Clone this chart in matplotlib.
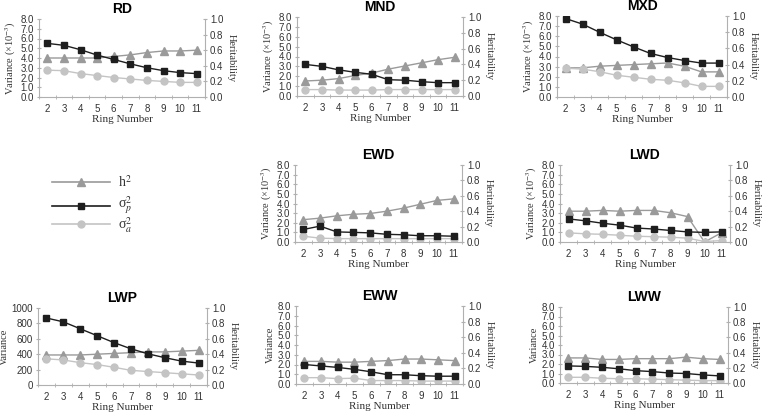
import matplotlib
matplotlib.use("Agg")
import matplotlib.pyplot as plt
import numpy as np

plt.rcParams["mathtext.fontset"] = "stix"

rings = [2, 3, 4, 5, 6, 7, 8, 9, 10, 11]

rd_p = [5.5, 5.3, 4.85, 4.3, 3.85, 3.4, 3.0, 2.7, 2.5, 2.4]
rd_a = [2.75, 2.7, 2.4, 2.2, 2.0, 1.85, 1.7, 1.6, 1.5, 1.5]
rd_h = [0.50, 0.50, 0.50, 0.50, 0.52, 0.54, 0.57, 0.59, 0.59, 0.60]

mnd_p = [3.2, 3.0, 2.65, 2.4, 2.2, 1.65, 1.6, 1.45, 1.35, 1.35]
mnd_a = [0.65, 0.65, 0.6, 0.6, 0.6, 0.65, 0.65, 0.65, 0.65, 0.65]
mnd_h = [0.19, 0.20, 0.22, 0.26, 0.29, 0.34, 0.38, 0.42, 0.46, 0.49]

mxd_p = [7.75, 7.2, 6.4, 5.65, 4.95, 4.3, 3.9, 3.6, 3.35, 3.35]
mxd_a = [2.85, 2.75, 2.5, 2.15, 1.95, 1.75, 1.65, 1.4, 1.05, 1.05]
mxd_h = [0.36, 0.36, 0.38, 0.39, 0.40, 0.41, 0.42, 0.38, 0.31, 0.31]

ewd_p = [1.3, 1.65, 1.05, 1.0, 0.95, 0.8, 0.75, 0.65, 0.65, 0.6]
ewd_a = [0.6, 0.4, 0.35, 0.35, 0.35, 0.35, 0.35, 0.35, 0.35, 0.35]
ewd_h = [0.29, 0.31, 0.34, 0.36, 0.37, 0.40, 0.44, 0.49, 0.54, 0.56]

lwd_p = [2.4, 2.2, 1.95, 1.75, 1.45, 1.35, 1.2, 1.05, 1.0, 1.05]
lwd_a = [0.95, 0.85, 0.8, 0.7, 0.6, 0.55, 0.5, 0.4, 0.05, 0.15]
lwd_h = [0.40, 0.40, 0.41, 0.40, 0.41, 0.41, 0.38, 0.33, 0.0, 0.12]

lwp_p = [870, 820, 730, 640, 550, 470, 405, 355, 310, 285]
lwp_a = [340, 325, 290, 265, 230, 190, 175, 160, 145, 130]
lwp_h = [0.39, 0.39, 0.39, 0.40, 0.41, 0.42, 0.43, 0.43, 0.44, 0.45]

eww_p = [2.0, 1.85, 1.7, 1.5, 1.25, 0.95, 0.95, 0.85, 0.8, 0.8]
eww_a = [0.65, 0.65, 0.55, 0.6, 0.35, 0.35, 0.35, 0.3, 0.3, 0.3]
eww_h = [0.29, 0.29, 0.28, 0.28, 0.29, 0.30, 0.32, 0.32, 0.31, 0.30]

lww_p = [1.8, 1.75, 1.65, 1.5, 1.3, 1.2, 1.05, 1.0, 0.85, 0.75]
lww_a = [0.6, 0.6, 0.5, 0.45, 0.45, 0.4, 0.35, 0.3, 0.25, 0.25]
lww_h = [0.33, 0.33, 0.31, 0.31, 0.32, 0.32, 0.32, 0.34, 0.32, 0.31]

W, H = 768, 417
fig = plt.figure(figsize=(W / 100, H / 100), dpi=100)

C_H = "#9a9a9a"
C_P = "#1e1e1e"
C_A = "#c4c4c4"
AX_C = "#b0b0b0"
SANS = ["Liberation Sans", "DejaVu Sans"]
SERIF = ["Liberation Serif", "DejaVu Serif"]


def panel(x0, x1, ytop, ybot, title, p, a, h, ylabel, lwp=False):
    ax = fig.add_axes([x0 / W, 1 - ybot / H, (x1 - x0) / W, (ybot - ytop) / H])
    ax2 = ax.twinx()
    ax.set_zorder(ax2.get_zorder() + 1)
    ax.patch.set_visible(False)
    ax2.plot(rings, h, color=C_H, lw=1.0, marker="^", ms=5.5, mec=C_H, mfc=C_H, zorder=2)
    ax.plot(rings, a, color=C_A, lw=1.0, marker="o", ms=5, mec=C_A, mfc=C_A, zorder=2)
    ax.plot(rings, p, color=C_P, lw=1.0, marker="s", ms=4.5, mec=C_P, mfc=C_P, zorder=3)
    ax.set_xlim(1.5, 11.5)
    if lwp:
        ax.set_ylim(0, 1000)
        ax.set_yticks([0, 200, 400, 600, 800, 1000])
        ax.set_yticklabels([str(v) for v in [0, 200, 400, 600, 800, 1000]])
    else:
        ax.set_ylim(0, 8)
        ax.set_yticks(np.arange(0, 8.01, 1.0))
        ax.set_yticklabels([f"{v:.1f}" for v in np.arange(0, 8.01, 1.0)])
    ax2.set_ylim(0, 1)
    ax2.set_yticks(np.arange(0, 1.01, 0.2))
    ax2.set_yticklabels([f"{v:.1f}" for v in np.arange(0, 1.01, 0.2)])
    ax.set_xticks(rings)
    ax.set_xticks(np.arange(1.5, 11.6, 1.0), minor=True)
    ax.tick_params(axis="x", which="major", length=0, labelsize=7, pad=5, colors="#333333")
    ax.tick_params(axis="x", which="minor", length=3, direction="inout", color=AX_C)
    ax.tick_params(axis="y", length=3, direction="inout", color=AX_C, labelsize=7, pad=2, labelcolor="#333333")
    ax2.tick_params(axis="y", length=3, direction="inout", color=AX_C, labelsize=7, pad=2, labelcolor="#333333")
    for lab in ax.get_xticklabels() + ax.get_yticklabels() + ax2.get_yticklabels():
        lab.set_family(SANS)
    for s in ["top", "right"]:
        ax.spines[s].set_visible(False)
    for s in ["top", "left", "bottom"]:
        ax2.spines[s].set_visible(False)
    for s in ["left", "bottom"]:
        ax.spines[s].set_color(AX_C)
        ax.spines[s].set_linewidth(0.8)
    ax2.spines["right"].set_color(AX_C)
    ax2.spines["right"].set_linewidth(0.8)
    ax.set_title(title, fontsize=10, fontweight="bold", family=SANS, pad=4)
    ax.set_xlabel("Ring Number", fontsize=8, family=SERIF, labelpad=1, color="#333333")
    ax.set_ylabel(ylabel, fontsize=7.5, family=SERIF, labelpad=2, color="#333333")
    ax2.set_ylabel("Heritability", fontsize=7.5, family=SERIF, rotation=270, labelpad=9, color="#333333")
    return ax


VL = r"Variance (×10$^{-3}$)"
panel(39, 205, 19, 97, "RD", rd_p, rd_a, rd_h, VL)
panel(297, 463, 17, 96, "MND", mnd_p, mnd_a, mnd_h, VL)
panel(557, 727, 16, 97, "MXD", mxd_p, mxd_a, mxd_h, VL)
panel(295, 462, 165, 242, "EWD", ewd_p, ewd_a, ewd_h, VL)
panel(560, 730, 165, 242, "LWD", lwd_p, lwd_a, lwd_h, VL)
panel(38, 207, 308, 385, "LWP", lwp_p, lwp_a, lwp_h, "Variance", lwp=True)
panel(296, 463, 306, 384, "EWW", eww_p, eww_a, eww_h, "Variance")
panel(560, 728, 307, 383, "LWW", lww_p, lww_a, lww_h, "Variance")

# legend
lx0, lx1 = 52 / W, 110 / W
rows = [
    (182, 182, C_H, "^", r"h$^{2}$", 5.5),
    (206, 205, C_P, "s", r"σ$^{2}_{p}$", 5),
    (224, 225, C_A, "o", r"σ$^{2}_{a}$", 5),
]
for y, ty, c, m, lab, ms in rows:
    yy = 1 - y / H
    fig.add_artist(plt.Line2D([lx0, lx1], [yy, yy], color=c, lw=1.2, transform=fig.transFigure))
    fig.add_artist(plt.Line2D([(lx0 + lx1) / 2], [yy], color=c, marker=m, ms=ms, mec=c, mfc=c,
                              transform=fig.transFigure))
    fig.text(118 / W, 1 - ty / H, lab, fontsize=10, family=SERIF, va="center", ha="left", color="#333333")

fig.savefig("out.png", dpi=100)
